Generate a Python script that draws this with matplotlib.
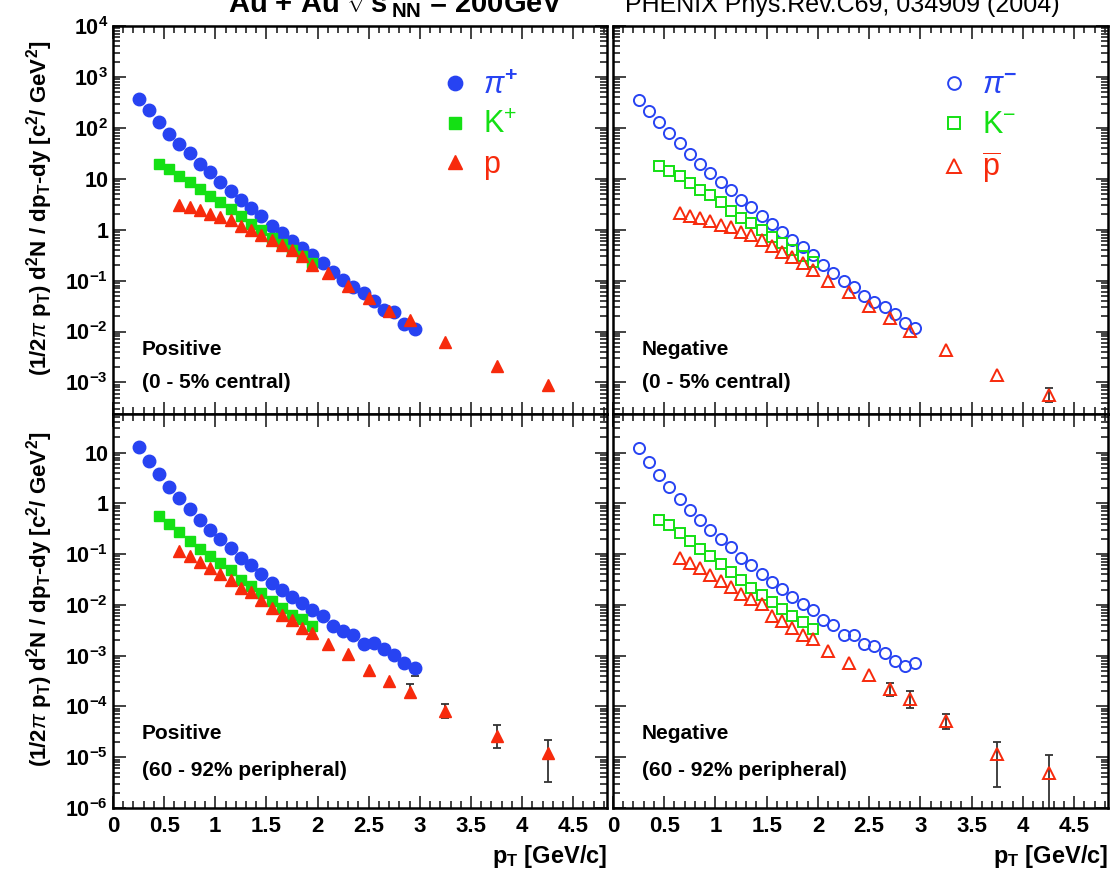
import matplotlib.pyplot as plt
from matplotlib.ticker import MultipleLocator, LogLocator, NullFormatter

plt.rcParams['font.family'] = 'Liberation Sans'
plt.rcParams['mathtext.fontset'] = 'custom'
plt.rcParams['mathtext.rm'] = 'Liberation Sans'
plt.rcParams['mathtext.bf'] = 'Liberation Sans:bold'
plt.rcParams['mathtext.it'] = 'Liberation Sans:italic'

# pT bin centres [GeV/c]
pt_pi = [0.25, 0.35, 0.45, 0.55, 0.65, 0.75, 0.85, 0.95, 1.05, 1.15, 1.25, 1.35, 1.45, 1.55,
         1.65, 1.75, 1.85, 1.95, 2.05, 2.15, 2.25, 2.35, 2.45, 2.55, 2.65, 2.75, 2.85, 2.95]
pt_k = [0.45, 0.55, 0.65, 0.75, 0.85, 0.95, 1.05, 1.15, 1.25, 1.35, 1.45, 1.55, 1.65, 1.75, 1.85, 1.95]
pt_p = [0.65, 0.75, 0.85, 0.95, 1.05, 1.15, 1.25, 1.35, 1.45, 1.55, 1.65, 1.75, 1.85, 1.95,
        2.1, 2.3, 2.5, 2.7, 2.9, 3.25, 3.75, 4.25]

# 0-5% central, positive
pip_cen = [361, 222, 131, 77, 49, 32, 19.8, 13.4, 8.6, 5.7, 3.8, 2.66, 1.82, 1.19, 0.86, 0.61, 0.43,
           0.32, 0.22, 0.146, 0.103, 0.076, 0.056, 0.040, 0.027, 0.0245, 0.0141, 0.0110]
kp_cen = [19.8, 15.6, 11.5, 8.5, 6.3, 4.5, 3.44, 2.54, 1.82, 1.31, 0.97, 0.68, 0.53, 0.40, 0.30, 0.226]
p_cen = [3.09, 2.78, 2.39, 2.06, 1.77, 1.52, 1.19, 1.0, 0.79, 0.63, 0.50, 0.39, 0.31, 0.20,
         0.140, 0.079, 0.045, 0.0257, 0.0168, 0.0063, 0.00213, 0.00091]

# 0-5% central, negative
pim_cen = [345, 213, 129, 80, 51, 31, 19.8, 13.0, 8.6, 5.9, 3.88, 2.78, 1.88, 1.31, 0.90, 0.63, 0.45,
           0.32, 0.20, 0.140, 0.100, 0.076, 0.050, 0.0386, 0.0299, 0.0221, 0.0149, 0.0115]
km_cen = [17.6, 14.0, 11.2, 8.3, 6.1, 4.7, 3.44, 2.36, 1.69, 1.35, 1.0, 0.71, 0.54, 0.40, 0.30, 0.237]
pbar_cen = [2.12, 1.88, 1.69, 1.45, 1.25, 1.12, 0.92, 0.79, 0.63, 0.47, 0.37, 0.29, 0.226, 0.158,
            0.100, 0.061, 0.0318, 0.0182, 0.0104, 0.00433, 0.00139, 0.00056]

# 60-92% peripheral, positive
pip_per = [13.1, 6.9, 3.81, 2.08, 1.27, 0.77, 0.475, 0.30, 0.199, 0.132, 0.084, 0.062, 0.041, 0.0271,
           0.0200, 0.0144, 0.0110, 0.00787, 0.0060, 0.00382, 0.00305, 0.0025, 0.00167, 0.00180,
           0.00133, 0.00101, 0.00073, 0.00058]
kp_per = [0.553, 0.397, 0.269, 0.179, 0.126, 0.0906, 0.067, 0.0496, 0.0315, 0.0233, 0.0173, 0.0118,
          0.00875, 0.00647, 0.00516, 0.00382]
p_per = [0.1135, 0.0906, 0.069, 0.0534, 0.0413, 0.0315, 0.0216, 0.0178, 0.0124, 0.00875, 0.00647,
         0.00501, 0.00354, 0.00274, 0.00167, 0.00106, 0.000521, 0.000317, 0.000196, 8.2e-5, 2.64e-5, 1.2e-5]

# 60-92% peripheral, negative
pim_per = [12.2, 6.45, 3.64, 2.08, 1.23, 0.748, 0.461, 0.303, 0.199, 0.136, 0.084, 0.0603, 0.0414,
           0.0279, 0.0207, 0.0144, 0.0106, 0.00787, 0.00501, 0.00399, 0.00254, 0.0025, 0.00167,
           0.00155, 0.00114, 0.00078, 0.000625, 0.00073]
km_per = [0.475, 0.379, 0.260, 0.179, 0.126, 0.0906, 0.065, 0.044, 0.0315, 0.0216, 0.016, 0.0115,
          0.00836, 0.00618, 0.00457, 0.00338]
pbar_per = [0.084, 0.067, 0.0534, 0.0395, 0.0292, 0.0226, 0.0167, 0.0128, 0.0102, 0.00618, 0.00478,
            0.00354, 0.0025, 0.00209, 0.00123, 0.00073, 0.00041, 0.000218, 0.000138, 5.2e-5, 1.15e-5, 4.9e-6]

# visible error bars (lower / upper edge)
eb_cen_neg_pt = [4.25]
eb_cen_neg_lo = [4.2e-4]
eb_cen_neg_hi = [7.6e-4]
eb_per_pos_pt = [2.9, 2.95, 3.25, 3.75, 4.25]
eb_per_pos_lo = [1.49e-4, 3.9e-4, 6.0e-5, 1.49e-5, 3.2e-6]
eb_per_pos_hi = [2.73e-4, 6.7e-4, 1.10e-4, 4.27e-5, 2.2e-5]
eb_per_neg_pt = [2.7, 2.9, 3.25, 3.75, 4.25]
eb_per_neg_lo = [1.61e-4, 9.5e-5, 3.6e-5, 2.55e-6, 1e-7]
eb_per_neg_hi = [2.94e-4, 2.0e-4, 7.0e-5, 2.0e-5, 1.1e-5]

xticks = [0, 0.5, 1, 1.5, 2, 2.5, 3, 3.5, 4, 4.5]
xticklabels = ['0', '0.5', '1', '1.5', '2', '2.5', '3', '3.5', '4', '4.5']
yticks_top = [1e4, 1e3, 1e2, 10, 1, 0.1, 0.01, 0.001]
yticks_bot = [10, 1, 0.1, 0.01, 1e-3, 1e-4, 1e-5, 1e-6]
ylabels_top = [r'$\mathbf{10^{4}}$', r'$\mathbf{10^{3}}$', r'$\mathbf{10^{2}}$', '10', '1',
               r'$\mathbf{10^{-1}}$', r'$\mathbf{10^{-2}}$', r'$\mathbf{10^{-3}}$']
ylabels_bot = ['10', '1', r'$\mathbf{10^{-1}}$', r'$\mathbf{10^{-2}}$', r'$\mathbf{10^{-3}}$',
               r'$\mathbf{10^{-4}}$', r'$\mathbf{10^{-5}}$', r'$\mathbf{10^{-6}}$']

BLUE = '#2743f2'
GREEN = '#14e014'
RED = '#f72a0c'

W, H = 1119, 874
fig = plt.figure(figsize=(11.19, 8.74), dpi=100)
ax_tl = fig.add_axes([113 / W, 1 - 414 / H, 494 / W, 388 / H])
ax_tr = fig.add_axes([613 / W, 1 - 414 / H, 495 / W, 388 / H])
ax_bl = fig.add_axes([113 / W, 1 - 808 / H, 494 / W, 394 / H])
ax_br = fig.add_axes([613 / W, 1 - 808 / H, 495 / W, 394 / H])

ylabel = (r'(1/2$\pi$ p$_{\mathbf{T}}$) d$^{\mathbf{2}}$N / dp$_{\mathbf{T}}$-dy '
          r'[c$^{\mathbf{2}}$/ GeV$^{\mathbf{2}}$]')


def style(ax, ylim, yticks, ylabels, left, bottom):
    ax.set_yscale('log')
    ax.set_xlim(0, 4.83)
    ax.set_ylim(ylim)
    ax.set_xticks(xticks)
    ax.xaxis.set_minor_locator(MultipleLocator(0.1))
    ax.set_yticks(yticks)
    ax.yaxis.set_minor_locator(LogLocator(base=10, subs=range(2, 10), numticks=50))
    ax.yaxis.set_minor_formatter(NullFormatter())
    ax.tick_params(which='both', direction='in', top=True, right=True, width=1.2, color='#222222')
    ax.tick_params(which='major', length=9)
    ax.tick_params(which='minor', length=5)
    for s in ax.spines.values():
        s.set_linewidth(1.8)
    if left:
        ax.set_yticklabels(ylabels, fontsize=15.5, fontweight='bold')
        ax.set_ylabel(ylabel, fontsize=16, fontweight='bold')
        ax.yaxis.set_label_coords(-0.118, 0.53)
    else:
        ax.set_yticklabels([])
    if bottom:
        ax.set_xticklabels(xticklabels, fontsize=16, fontweight='bold')
        ax.set_xlabel(r'p$_{\mathbf{T}}$ [GeV/c]', fontsize=17, fontweight='bold', loc='right', labelpad=4)
        ax.tick_params(axis='x', pad=6)
    else:
        ax.set_xticklabels([])


def draw(ax, pi, k, p, filled):
    if filled:
        h1, = ax.plot(pt_pi, pi, 'o', ms=9, color=BLUE, mec=BLUE, zorder=3)
        h2, = ax.plot(pt_k, k, 's', ms=7.8, color=GREEN, mec=GREEN, zorder=3)
        h3, = ax.plot(pt_p, p, '^', ms=8.5, color=RED, mec=RED, zorder=4)
    else:
        h1, = ax.plot(pt_pi, pi, 'o', ms=8, mfc='none', mec=BLUE, mew=1.4, zorder=3)
        h2, = ax.plot(pt_k, k, 's', ms=7.8, mfc='none', mec=GREEN, mew=1.4, zorder=3)
        h3, = ax.plot(pt_p, p, '^', ms=8.5, mfc='none', mec=RED, mew=1.4, zorder=4)
    return [h1, h2, h3]


def bars(ax, pt, lo, hi):
    ax.errorbar(pt, lo, yerr=[[0] * len(pt), [h - l for h, l in zip(hi, lo)]], fmt='none',
                ecolor='#333333', elinewidth=1.3, capsize=3, capthick=1.3, zorder=2)


h_pos = draw(ax_tl, pip_cen, kp_cen, p_cen, True)
h_neg = draw(ax_tr, pim_cen, km_cen, pbar_cen, False)
draw(ax_bl, pip_per, kp_per, p_per, True)
draw(ax_br, pim_per, km_per, pbar_per, False)
bars(ax_tr, eb_cen_neg_pt, eb_cen_neg_lo, eb_cen_neg_hi)
bars(ax_bl, eb_per_pos_pt, eb_per_pos_lo, eb_per_pos_hi)
bars(ax_br, eb_per_neg_pt, eb_per_neg_lo, eb_per_neg_hi)

top_lim = (10 ** -3.62, 1e4)
bot_lim = (1e-6, 10 ** 1.76)
style(ax_tl, top_lim, yticks_top, ylabels_top, True, False)
style(ax_tr, top_lim, yticks_top, ylabels_top, False, False)
style(ax_bl, bot_lim, yticks_bot, ylabels_bot, True, True)
style(ax_br, bot_lim, yticks_bot, ylabels_bot, False, True)

leg_kw = dict(loc='upper left', frameon=False, fontsize=22, handlelength=0.9, handletextpad=0.45,
              labelspacing=0.32, borderpad=0, borderaxespad=0, markerscale=1.15)
ax_tl.legend(h_pos, [r'$\pi^{\mathbf{+}}$', r'K$^{+}$', 'p'], bbox_to_anchor=(0.665, 0.885),
             labelcolor=[BLUE, GREEN, RED], **leg_kw)
ax_tr.legend(h_neg, [r'$\pi^{\mathbf{-}}$', r'K$^{-}$', r'$\overline{\mathrm{p}}$'],
             bbox_to_anchor=(0.662, 0.885), labelcolor=[BLUE, GREEN, RED], **leg_kw)

for ax, charge, cent, y1, y2 in [(ax_tl, 'Positive', '(0 - 5% central)', 0.165, 0.08),
                                 (ax_tr, 'Negative', '(0 - 5% central)', 0.165, 0.08),
                                 (ax_bl, 'Positive', '(60 - 92% peripheral)', 0.19, 0.096),
                                 (ax_br, 'Negative', '(60 - 92% peripheral)', 0.19, 0.096)]:
    ax.text(0.058, y1, charge, transform=ax.transAxes, fontsize=15, fontweight='bold', va='center')
    ax.text(0.058, y2, cent, transform=ax.transAxes, fontsize=15, fontweight='bold', va='center')

# title is partly cut at the top edge, as in the original figure
fig.text(228 / W, 1 - 13 / H, r'Au + Au $\sqrt{\mathbf{s}}_{\mathbf{NN}}$ = 200GeV', fontsize=21,
         fontweight='bold', va='baseline')
fig.text(625 / W, 1 - 12 / H, 'PHENIX Phys.Rev.C69, 034909 (2004)', fontsize=18, va='baseline',
         family=['Liberation Sans Narrow', 'Liberation Sans'])

fig.savefig('out.png', dpi=100)
